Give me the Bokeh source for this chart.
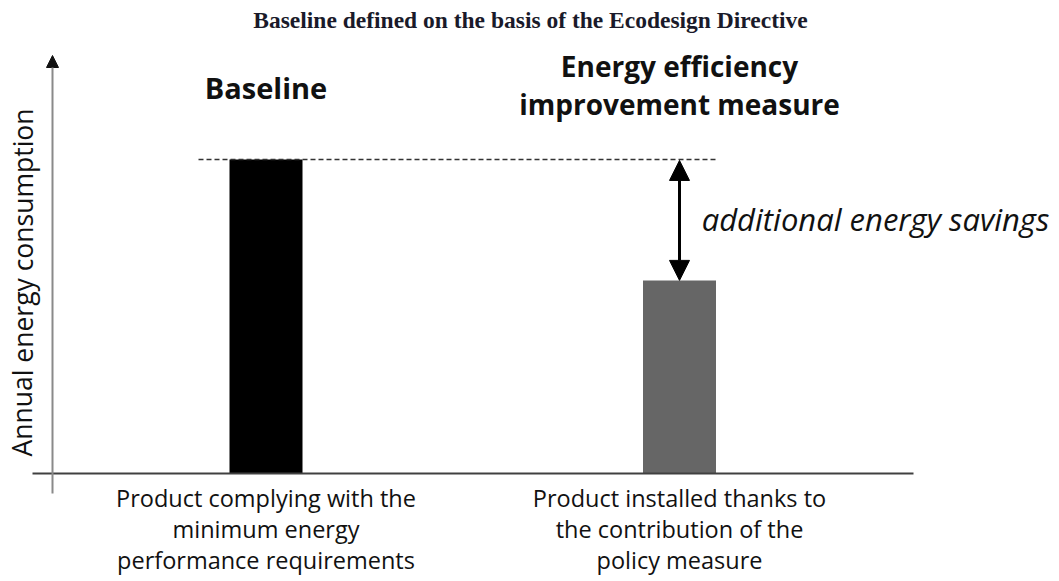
from bokeh.plotting import figure
from bokeh.models import Range1d, Arrow, NormalHead, Label
from bokeh.embed import file_html
from bokeh.resources import INLINE

# ---- data ----
categories = ["Product complying with the\nminimum energy\nperformance requirements",
              "Product installed thanks to\nthe contribution of the\npolicy measure"]
consumption = [100.0, 61.5]          # relative annual energy consumption
bar_colors = ["#000000", "#666666"]
group_titles = ["Baseline", "Energy efficiency\nimprovement measure"]
title_text = "Baseline defined on the basis of the Ecodesign Directive"
y_label = "Annual energy consumption"
savings_label = "additional energy savings"

W, H = 1059, 581
K = 3.14  # px per unit
def py(ypix):
    return (473 - ypix) / K

p = figure(width=W, height=H, output_backend="svg", toolbar_location=None,
           x_range=Range1d(0, W), y_range=Range1d(py(H), py(0)),
           min_border=0, outline_line_color=None, background_fill_color="white")
p.axis.visible = False
p.grid.visible = False

centers = [265.5, 679]
bar_w = 73
p.vbar(x=centers, top=consumption, bottom=0, width=bar_w, fill_color=bar_colors, line_color=None)

# x axis line
p.segment(x0=[32], y0=[0], x1=[913], y1=[0], line_color="#404040", line_width=2)
# y axis arrow
p.add_layout(Arrow(end=NormalHead(size=12, fill_color="#111111", line_color="#111111"),
                   x_start=52, y_start=py(493), x_end=52, y_end=py(55),
                   line_color="#8a8a8a", line_width=2))
# dashed baseline
p.segment(x0=[198], y0=[consumption[0]], x1=[716], y1=[consumption[0]],
          line_color="#333333", line_width=1.5, line_dash="5 3")
# double arrow for savings
p.add_layout(Arrow(start=NormalHead(size=20, fill_color="black", line_color="black"),
                   end=NormalHead(size=20, fill_color="black", line_color="black"),
                   x_start=centers[1], y_start=consumption[0] - 0.3,
                   x_end=centers[1], y_end=consumption[1],
                   line_color="black", line_width=3))

def add_text(x, ypix, txt, size, font="Open Sans", style="normal", color="#111111", angle=0):
    p.add_layout(Label(x=x, y=py(ypix), text=txt, text_font=font, text_font_size=f"{size}px",
                       text_font_style=style, text_color=color, text_align="center",
                       text_baseline="middle", angle=angle))

add_text(530, 19, title_text, 23.5, font="Liberation Serif", style="bold", color="#1a1a2a")
add_text(centers[0], 87, group_titles[0], 29, style="bold")
for i, line in enumerate(group_titles[1].split("\n")):
    add_text(centers[1], 65 + 38 * i, line, 28, style="bold")
add_text(875, 218, savings_label, 31, style="italic")
add_text(22, 282, y_label, 26.5, angle=1.5707963)
for c, cat in zip(centers, categories):
    for i, line in enumerate(cat.split("\n")):
        add_text(c, 497 + 31 * i, line, 23.5)

open("out.html", "w").write(file_html(p, INLINE))
